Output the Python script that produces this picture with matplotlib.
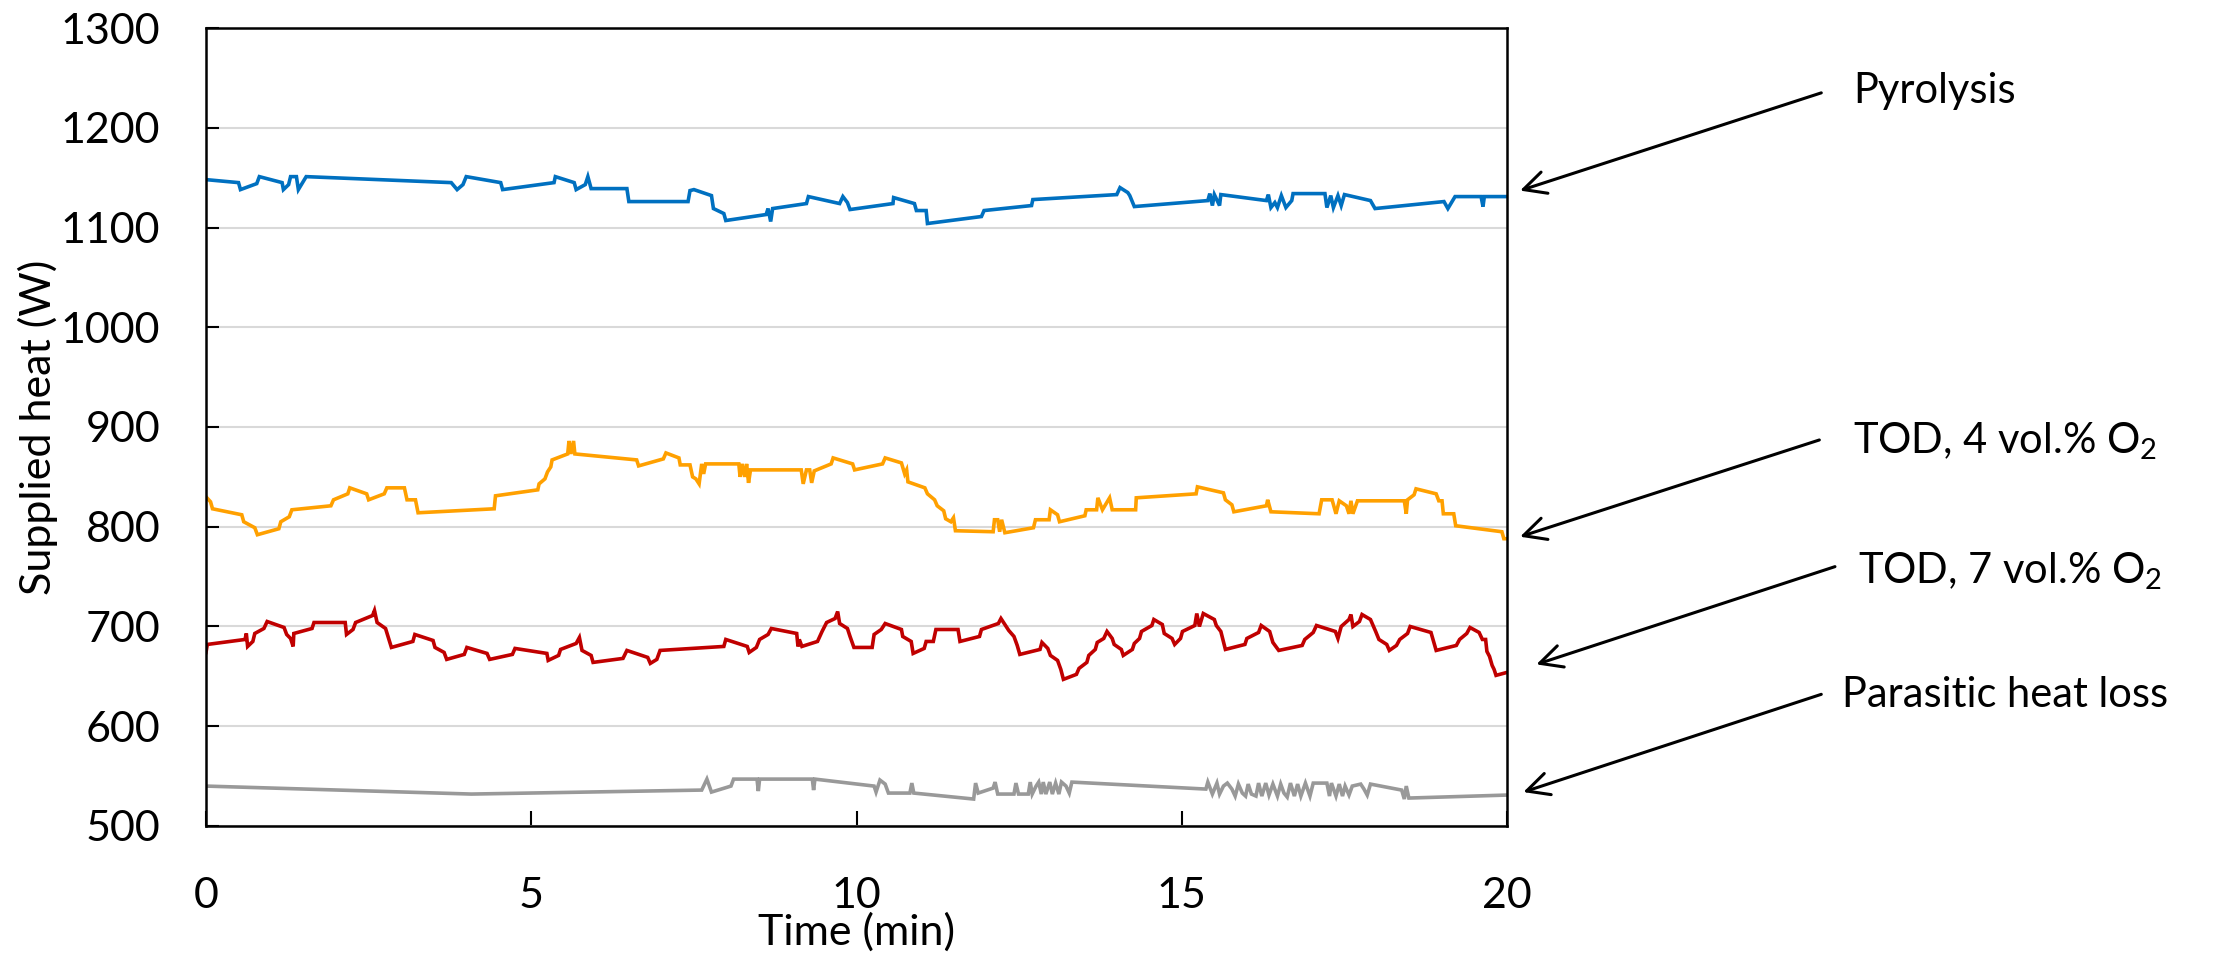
import matplotlib
matplotlib.use("Agg")
import matplotlib.pyplot as plt

# (time in min, supplied heat in W)
pyrolysis = [(0, 1148), (0.50, 1145), (0.53, 1138), (0.78, 1144), (0.82, 1151), (1.17, 1145), (1.19, 1138),
             (1.27, 1143), (1.30, 1151), (1.39, 1151), (1.42, 1138), (1.54, 1151), (3.77, 1145), (3.86, 1138),
             (3.95, 1143), (4.00, 1151), (4.53, 1145), (4.56, 1138), (5.35, 1145), (5.37, 1151), (5.66, 1145),
             (5.69, 1138), (5.83, 1143), (5.87, 1151), (5.92, 1139), (6.47, 1139), (6.50, 1126), (7.41, 1126),
             (7.44, 1137), (7.50, 1138), (7.77, 1132), (7.80, 1119), (7.96, 1114), (7.99, 1107), (8.61, 1113),
             (8.64, 1119), (8.68, 1106), (8.71, 1119), (9.23, 1124), (9.26, 1131), (9.74, 1124), (9.79, 1131),
             (9.86, 1125), (9.90, 1118), (10.56, 1124), (10.57, 1130), (10.89, 1124), (10.92, 1117), (11.07, 1117),
             (11.09, 1104), (11.92, 1111), (11.96, 1117), (12.69, 1122), (12.71, 1128), (14.00, 1133), (14.05, 1140),
             (14.17, 1135), (14.20, 1132), (14.27, 1121), (15.40, 1127), (15.43, 1134), (15.47, 1122), (15.50, 1133),
             (15.58, 1122), (15.60, 1133), (16.30, 1127), (16.33, 1133), (16.37, 1120), (16.43, 1125), (16.47, 1120),
             (16.53, 1132), (16.60, 1120), (16.69, 1127), (16.71, 1134), (17.20, 1134), (17.23, 1120), (17.29, 1132),
             (17.33, 1120), (17.40, 1132), (17.45, 1122), (17.50, 1133), (17.90, 1127), (17.97, 1119), (19.03, 1126),
             (19.09, 1119), (19.20, 1131), (19.60, 1131), (19.63, 1121), (19.65, 1131), (20.00, 1131)]

tod_4 = [(0, 830), (0.07, 825), (0.10, 818), (0.55, 812), (0.58, 805), (0.75, 799), (0.79, 792), (1.12, 798),
         (1.15, 805), (1.28, 810), (1.32, 817), (1.92, 821), (1.96, 827), (2.18, 833), (2.21, 839), (2.47, 833),
         (2.50, 827), (2.74, 833), (2.78, 839), (3.05, 839), (3.09, 827), (3.22, 827), (3.26, 814), (4.43, 818),
         (4.45, 831), (5.10, 837), (5.12, 843), (5.21, 848), (5.25, 855), (5.30, 860), (5.32, 867), (5.56, 873),
         (5.58, 886), (5.61, 873), (5.65, 886), (5.67, 873), (6.62, 867), (6.65, 861), (7.03, 868), (7.07, 874),
         (7.27, 869), (7.29, 862), (7.44, 862), (7.48, 850), (7.53, 848), (7.58, 843), (7.62, 863), (7.65, 853),
         (7.68, 863), (8.19, 863), (8.21, 850), (8.24, 863), (8.28, 850), (8.31, 863), (8.34, 844), (8.37, 857),
         (9.15, 857), (9.18, 843), (9.23, 857), (9.28, 857), (9.31, 844), (9.35, 856), (9.61, 863), (9.64, 869),
         (9.94, 863), (9.97, 857), (10.40, 863), (10.44, 869), (10.69, 864), (10.74, 853), (10.77, 857),
         (10.79, 845), (11.05, 839), (11.09, 833), (11.20, 827), (11.24, 821), (11.34, 816), (11.37, 808),
         (11.45, 805), (11.49, 809), (11.52, 796), (12.10, 795), (12.12, 807), (12.17, 807), (12.20, 795),
         (12.23, 807), (12.28, 794), (12.72, 799), (12.75, 807), (12.96, 807), (12.98, 817), (13.09, 812),
         (13.12, 805), (13.51, 811), (13.53, 817), (13.69, 817), (13.71, 829), (13.78, 817), (13.89, 829),
         (13.93, 817), (14.29, 817), (14.30, 829), (15.22, 833), (15.24, 840), (15.64, 834), (15.67, 827),
         (15.77, 822), (15.80, 815), (16.30, 821), (16.32, 827), (16.37, 815), (17.11, 813), (17.15, 827),
         (17.31, 827), (17.37, 813), (17.42, 826), (17.53, 821), (17.57, 813), (17.60, 826), (17.63, 813),
         (17.70, 826), (18.42, 826), (18.45, 813), (18.47, 827), (18.57, 832), (18.60, 838), (18.91, 833),
         (18.95, 826), (19.00, 826), (19.02, 813), (19.18, 813), (19.21, 801), (19.92, 795), (19.95, 788),
         (20.00, 788)]

tod_7 = [(0, 674), (0.02, 682), (0.60, 687), (0.62, 693), (0.64, 680), (0.72, 685), (0.75, 693), (0.89, 698),
         (0.94, 705), (1.20, 699), (1.24, 692), (1.30, 688), (1.34, 680), (1.35, 693), (1.63, 698), (1.66, 704),
         (2.14, 704), (2.16, 692), (2.26, 697), (2.30, 704), (2.56, 711), (2.59, 716), (2.63, 704), (2.76, 698),
         (2.85, 679), (3.18, 685), (3.21, 692), (3.49, 686), (3.52, 679), (3.66, 674), (3.70, 667), (3.97, 672),
         (4.01, 679), (4.32, 673), (4.36, 667), (4.71, 672), (4.75, 678), (5.24, 673), (5.26, 666), (5.42, 671),
         (5.45, 677), (5.69, 683), (5.74, 689), (5.78, 676), (5.92, 671), (5.95, 664), (6.41, 668), (6.47, 676),
         (6.79, 669), (6.83, 663), (6.93, 667), (6.98, 676), (7.96, 680), (7.99, 687), (8.32, 680), (8.35, 674),
         (8.46, 679), (8.51, 687), (8.64, 692), (8.69, 698), (9.08, 693), (9.10, 680), (9.12, 687), (9.16, 680),
         (9.40, 685), (9.47, 695), (9.54, 704), (9.67, 708), (9.71, 715), (9.74, 703), (9.86, 698), (9.90, 690),
         (9.96, 679), (10.24, 679), (10.27, 692), (10.38, 697), (10.44, 703), (10.69, 697), (10.71, 690),
         (10.84, 685), (10.87, 673), (11.04, 678), (11.07, 685), (11.18, 685), (11.22, 697), (11.56, 697),
         (11.59, 685), (11.89, 690), (11.92, 697), (12.18, 703), (12.22, 708), (12.34, 696), (12.42, 690),
         (12.47, 681), (12.51, 672), (12.82, 677), (12.85, 684), (12.94, 678), (12.98, 671), (13.09, 666),
         (13.14, 657), (13.18, 647), (13.38, 652), (13.42, 658), (13.54, 664), (13.57, 671), (13.67, 677),
         (13.70, 684), (13.80, 688), (13.85, 695), (13.93, 688), (13.96, 682), (14.07, 677), (14.10, 671),
         (14.24, 677), (14.27, 683), (14.35, 688), (14.38, 695), (14.54, 701), (14.57, 707), (14.70, 702),
         (14.73, 693), (14.85, 688), (14.89, 682), (14.98, 688), (15.01, 695), (15.20, 701), (15.23, 713),
         (15.27, 700), (15.33, 713), (15.50, 707), (15.53, 701), (15.60, 695), (15.67, 677), (15.97, 682),
         (16.00, 688), (16.18, 694), (16.22, 701), (16.35, 695), (16.40, 684), (16.49, 676), (16.85, 681),
         (16.89, 687), (17.02, 694), (17.07, 701), (17.36, 695), (17.40, 688), (17.45, 700), (17.57, 707),
         (17.60, 712), (17.63, 700), (17.73, 705), (17.77, 712), (17.90, 707), (17.98, 695), (18.03, 687),
         (18.15, 682), (18.19, 676), (18.30, 681), (18.35, 687), (18.47, 693), (18.51, 700), (18.83, 694),
         (18.91, 676), (19.22, 681), (19.27, 687), (19.38, 693), (19.43, 699), (19.57, 694), (19.62, 687),
         (19.67, 687), (19.69, 675), (19.73, 670), (19.77, 661), (19.80, 657), (19.83, 651), (20.00, 654)]

parasitic = [(0, 540), (4.08, 532), (7.62, 536), (7.70, 547), (7.77, 534), (8.07, 540), (8.11, 547), (8.47, 547),
             (8.49, 535), (8.51, 547), (9.32, 547), (9.34, 536), (9.36, 547), (10.27, 540), (10.30, 534),
             (10.36, 546), (10.44, 542), (10.49, 533), (10.82, 533), (10.85, 543), (10.88, 533), (11.80, 527),
             (11.83, 543), (11.87, 533), (12.10, 538), (12.13, 544), (12.17, 532), (12.42, 532), (12.45, 543),
             (12.49, 532), (12.64, 532), (12.67, 544), (12.70, 532), (12.76, 540), (12.80, 544), (12.84, 532),
             (12.87, 544), (12.91, 532), (12.97, 544), (13.01, 532), (13.06, 543), (13.11, 532), (13.15, 544),
             (13.22, 540), (13.27, 533), (13.31, 544), (15.37, 537), (15.40, 544), (15.47, 532), (15.54, 543),
             (15.58, 532), (15.64, 540), (15.70, 543), (15.77, 537), (15.82, 530), (15.87, 542), (15.93, 533),
             (15.98, 530), (16.02, 542), (16.07, 532), (16.14, 530), (16.18, 543), (16.23, 530), (16.29, 543),
             (16.34, 531), (16.40, 542), (16.47, 530), (16.52, 542), (16.57, 533), (16.62, 529), (16.67, 543),
             (16.73, 530), (16.78, 542), (16.83, 530), (16.90, 543), (16.97, 530), (17.02, 543), (17.23, 543),
             (17.27, 530), (17.30, 543), (17.37, 530), (17.42, 542), (17.47, 530), (17.51, 540), (17.57, 531),
             (17.62, 540), (17.75, 542), (17.80, 537), (17.85, 531), (17.90, 542), (18.38, 536), (18.42, 527),
             (18.45, 540), (18.49, 528), (20.00, 531)]

series = [(pyrolysis, "#0070C0"), (tod_4, "#FFA000"), (tod_7, "#C00000"), (parasitic, "#999999")]

x_ticks = [0, 5, 10, 15, 20]
y_ticks = [500, 600, 700, 800, 900, 1000, 1100, 1200, 1300]

# labels on the right: text, text anchor (t, W), arrow tail, arrow head
labels = [
    ("Pyrolysis", (25.32, 1225), (24.83, 1235), (20.2, 1137)),
    ("TOD, 4 vol.% O$_\\mathregular{2}$", (25.32, 874), (24.80, 887), (20.2, 790)),
    ("TOD, 7 vol.% O$_\\mathregular{2}$", (25.40, 744), (25.04, 760), (20.45, 662)),
    ("Parasitic heat loss", (25.15, 619), (24.83, 632), (20.25, 534)),
]

plt.rcParams['font.family'] = ['Lato', 'DejaVu Sans']
plt.rcParams['mathtext.fontset'] = 'custom'
plt.rcParams['mathtext.rm'] = 'Lato'

fig = plt.figure(figsize=(22.15, 9.56), dpi=100)
ax = fig.add_axes([0.093, 0.136, 0.5874, 0.8347])

for data, color in series:
    t, w = zip(*data)
    ax.plot(t, w, color=color, lw=2.6, solid_joinstyle='miter')

ax.set_xlim(0, 20)
ax.set_ylim(500, 1300)
ax.set_xticks(x_ticks)
ax.set_yticks(y_ticks)
ax.yaxis.grid(True, color='#d9d9d9', lw=1.5)
ax.set_axisbelow(True)

for s in ax.spines.values():
    s.set_linewidth(1.8)
    s.set_color('black')

ax.tick_params(axis='y', direction='in', length=9.5, width=1.5, pad=33, labelsize=31)
ax.tick_params(axis='x', direction='in', length=11, width=1.5, pad=37, labelsize=31)

ax.set_xlabel("Time (min)", fontsize=31)
ax.set_ylabel("Supplied heat (W)", fontsize=31)
ax.xaxis.set_label_coords(0.5, -0.133)
ax.xaxis.label.set_va('center')
ax.yaxis.set_label_coords(-0.129, 0.5)
ax.yaxis.label.set_va('center')

for text, pos, tail, head in labels:
    ax.annotate('', xy=head, xytext=tail, annotation_clip=False,
                arrowprops=dict(arrowstyle='->', lw=2.2, color='black',
                                mutation_scale=40, shrinkA=0, shrinkB=0))
    ax.text(pos[0], pos[1], text, fontsize=30, ha='left', va='baseline', clip_on=False)

fig.savefig("out.png", dpi=100)
